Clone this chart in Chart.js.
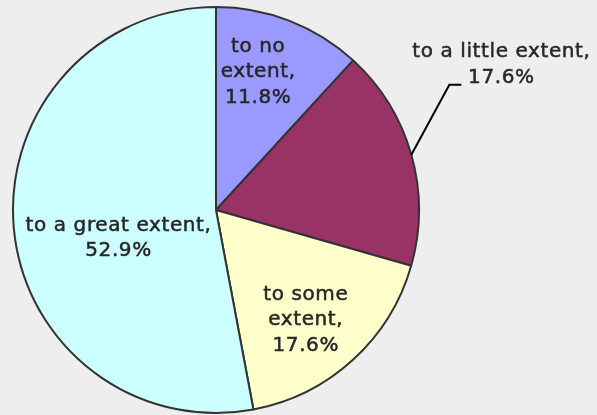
<!DOCTYPE html>
<html>
<head>
<meta charset="utf-8">
<script src="https://cdn.jsdelivr.net/npm/chart.js@4"></script>
<style>
  html, body { margin: 0; padding: 0; background: #eeeeee; }
  #wrap { width: 597px; height: 415px; }
</style>
</head>
<body>
<div id="wrap"><canvas id="pie"></canvas></div>
<script>
const categories = ['to no extent', 'to a little extent', 'to some extent', 'to a great extent'];
const percents = [11.8, 17.6, 17.6, 52.9];
const colors = ['#9999ff', '#993366', '#ffffcc', '#ccffff'];

// where each label sits: fraction along the slice angle, fraction of radius
const labelPlace = [
    { f: 0.40, r: 0.71, lines: ['to no', 'extent,', '11.8%'] },
    { f: 0.50, r: 1.0, outside: true, lines: ['to a little extent,', '17.6%'] },
    { f: 0.55, r: 0.70, lines: ['to some', 'extent,', '17.6%'] },
    { f: 0.443, r: 0.50, lines: ['to a great extent,', '52.9%'] }
];

const sliceLabels = {
    id: 'sliceLabels',
    afterDatasetsDraw(chart) {
        let ctx = chart.ctx;
        let arcs = chart.getDatasetMeta(0).data;
        ctx.save();
        ctx.font = '20px "DejaVu Sans", Verdana, sans-serif';
        ctx.letterSpacing = '0.6px';
        ctx.fillStyle = '#262626';
        ctx.textAlign = 'center';
        ctx.textBaseline = 'middle';
        const put = (t, x, y) => {
            ctx.lineWidth = 0.5;
            ctx.strokeStyle = '#262626';
            ctx.strokeText(t, x, y);
            ctx.fillText(t, x, y);
        };
        arcs.forEach((arc, i) => {
            let p = arc.getProps(['x', 'y', 'startAngle', 'endAngle', 'outerRadius'], true);
            let lp = labelPlace[i];
            let a = p.startAngle + lp.f * (p.endAngle - p.startAngle);
            let px = p.x + Math.cos(a) * p.outerRadius * lp.r;
            let py = p.y + Math.sin(a) * p.outerRadius * lp.r;
            if (lp.outside) {
                let ex = px + 38, ey = py - 70;
                ctx.strokeStyle = '#000000';
                ctx.lineWidth = 2;
                ctx.beginPath();
                ctx.moveTo(px, py);
                ctx.lineTo(ex, ey);
                ctx.lineTo(ex + 12, ey);
                ctx.stroke();
                put(lp.lines[0], ex + 52, ey - 33);
                put(lp.lines[1], ex + 52, ey - 7);
            } else {
                let lh = 25.5;
                let y0 = py - (lp.lines.length - 1) * lh / 2;
                lp.lines.forEach((t, k) => put(t, px, y0 + k * lh));
            }
        });
        ctx.restore();
    }
};

new Chart(document.getElementById('pie'), {
    type: 'pie',
    data: {
        labels: categories,
        datasets: [{
            data: percents,
            backgroundColor: colors,
            borderColor: '#333333',
            borderWidth: 2
        }]
    },
    options: {
        responsive: true,
        maintainAspectRatio: false,
        animation: false,
        layout: { padding: { left: 12, right: 177, top: 6, bottom: 1 } },
        plugins: {
            legend: { display: false },
            tooltip: { enabled: false }
        }
    },
    plugins: [sliceLabels]
});
</script>
</body>
</html>
